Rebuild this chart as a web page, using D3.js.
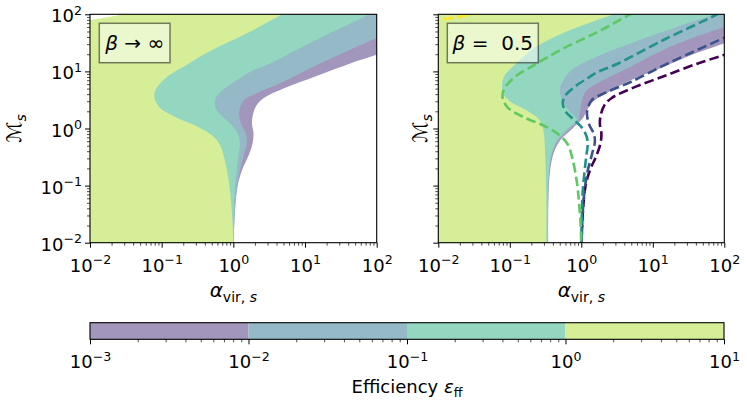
<!DOCTYPE html>
<html>
<head>
<meta charset="utf-8">
<script src="https://cdn.jsdelivr.net/npm/d3@7"></script>
<style>
  body { margin: 0; background: #fff; }
  text { font-family: "DejaVu Sans"; }
</style>
</head>
<body>
<svg id="chart" width="747" height="408"></svg>
<script>
// contour levels of the efficiency and tick exponents
var levels = [1e-3, 1e-2, 1e-1, 1, 10];
var xTickExps = [-2, -1, 0, 1, 2];
var yTickExps = [-2, -1, 0, 1, 2];
var cbTickExps = [-3, -2, -1, 0, 1];

var inf10 = [[0.005, 68], [0.01, 79], [0.0295, 100], [0.05, 115]];
var inf1 = [[7.9, 141], [4.8, 100], [1.74, 50], [0.50, 23.4], [0.24, 13.8], [0.117, 7.9],
  [0.085, 5.1], [0.079, 3.6], [0.093, 2.35], [0.162, 1.55], [0.31, 1.10], [0.50, 0.76],
  [0.65, 0.52], [0.76, 0.28], [0.87, 0.112], [0.93, 0.050], [0.98, 0.020], [1.0, 0.008]];
var inf01 = [[126, 141], [79, 100], [14.1, 35.5], [3.16, 13.5], [1.70, 9.8], [1.23, 7.6],
  [0.81, 5.4], [0.59, 3.7], [0.55, 2.8], [0.60, 2.0], [0.76, 1.48], [1.0, 1.07], [1.17, 0.76],
  [1.23, 0.54], [1.17, 0.32], [1.10, 0.158], [1.035, 0.063], [1.0, 0.008]];
var inf001 = [[126, 44.7], [100, 38.9], [42.7, 24], [14.5, 12.9], [5.0, 6.6], [2.24, 4.3],
  [1.41, 3.16], [1.23, 2.24], [1.20, 1.78], [1.29, 1.17], [1.48, 0.83], [1.55, 0.60],
  [1.41, 0.355], [1.20, 0.158], [1.07, 0.050], [1.0, 0.008]];
var inf0001 = [[126, 21.9], [95, 19.1], [42.7, 13.8], [14.5, 8.3], [5.0, 5.0], [2.63, 3.39],
  [2.09, 2.51], [1.86, 1.66], [1.82, 1.20], [1.91, 0.83], [1.86, 0.56], [1.62, 0.33],
  [1.32, 0.186], [1.15, 0.100], [1.06, 0.040], [1.0, 0.008]];

// contours of the beta = 0.5 panel
var half1 = [[5.6, 141], [2.82, 100], [0.62, 50], [0.234, 26.9], [0.123, 13.8], [0.083, 8.1],
  [0.078, 5.6], [0.081, 4.0], [0.10, 3.0], [0.17, 2.09], [0.26, 1.41], [0.295, 0.93],
  [0.31, 0.42], [0.324, 0.056], [0.324, 0.008]];
var half01 = [[126, 120], [87, 105], [40.7, 79], [14.1, 50], [4.8, 30.9], [1.66, 18.2],
  [0.69, 10], [0.54, 6.3], [0.50, 4.7], [0.54, 3.16], [0.63, 2.29], [0.79, 1.66], [0.87, 1.41],
  [0.74, 1.15], [0.60, 0.91], [0.457, 0.62], [0.385, 0.37], [0.35, 0.166], [0.339, 0.056],
  [0.337, 0.008]];
var half001 = [[126, 67.6], [98, 60], [40.7, 40.7], [14.1, 24], [4.8, 12.0], [2.04, 7.1],
  [1.20, 4.7], [1.02, 3.16], [0.955, 1.86], [0.91, 1.38], [0.79, 1.15], [0.65, 0.91],
  [0.48, 0.62], [0.394, 0.37], [0.355, 0.166], [0.343, 0.056], [0.341, 0.008]];
var half0001 = [[126, 35.5], [98, 30.9], [40.7, 20.9], [14.1, 12.0], [4.8, 6.9], [2.29, 4.2],
  [1.48, 3.0], [1.20, 2.09], [1.05, 1.51], [0.87, 1.20], [0.71, 0.93], [0.51, 0.63],
  [0.41, 0.37], [0.363, 0.166], [0.347, 0.056], [0.344, 0.008]];

var svg = d3.select("#chart");
var fs = 18;

// viridis at the middle of each band, half transparent on white
function bandColor(i) {
  return d3.interpolateRgb("#ffffff", d3.interpolateViridis((i + 0.5) / 4))(0.5);
}
function lineColor(i) {
  return d3.interpolateViridis(i / 4);
}

var smooth = d3.curveCatmullRom.alpha(0.5);

// region with efficiency above the contour (left of it)
function leftOf(x, y, pts) {
  var a = pts[0], b = pts[pts.length - 1];
  return d3.line().x(d => x(d[0])).y(d => y(d[1])).curve(smooth)(pts) +
    "L" + x(1e-4) + "," + y(b[1]) + "L" + x(1e-4) + "," + y(1e4) +
    "L" + x(1e4) + "," + y(1e4) + "L" + x(1e4) + "," + y(a[1]) + "Z";
}
// region above the contour in the top left corner
function aboveOf(x, y, pts) {
  var a = pts[0], b = pts[pts.length - 1];
  return d3.line().x(d => x(d[0])).y(d => y(d[1])).curve(smooth)(pts) +
    "L" + x(b[0]) + "," + y(1e4) + "L" + x(1e-4) + "," + y(1e4) +
    "L" + x(1e-4) + "," + y(a[1]) + "Z";
}

function minors(lo, hi) {
  var out = [];
  for (var e = lo; e < hi; e++)
    for (var k = 2; k < 10; k++) out.push(k * Math.pow(10, e));
  return out;
}

function powLabels(g, dx, dy, anchor) {
  g.attr("font-size", fs).attr("font-family", "DejaVu Sans");
  g.selectAll(".tick text").each(function(d) {
    var e = Math.round(Math.log10(d));
    var t = d3.select(this).text(null)
      .attr("x", dx).attr("y", dy).attr("dy", null)
      .attr("text-anchor", anchor).attr("fill", "#000");
    t.append("tspan").text("10");
    t.append("tspan").attr("font-size", "0.7em").attr("dy", "-0.6em")
      .text(e < 0 ? "\u2212" + (-e) : e);
  });
}

function styleTicks(g, w) {
  g.select(".domain").remove();
  g.selectAll(".tick line").attr("stroke", "#000").attr("stroke-width", w);
}

var yTop = 14.3, yBot = 242.7;
var panels = [
  { id: "a", x0: 90, x1: 376.7, fills: [inf0001, inf001, inf01, inf1], corner: inf10,
    lines: null, tickLabels: true, box: [99.3, 23.3, 70.7, 39.4], label: ["β", " \u2192 \u221e"] },
  { id: "b", x0: 438.3, x1: 724.3, fills: [half0001, half001, half01, half1], corner: null,
    lines: [inf0001, inf001, inf01, inf1, inf10], tickLabels: false,
    box: [447.3, 23.3, 91, 39.4], label: ["β", " =  0.5"] }
];

var defs = svg.append("defs");

panels.forEach(function(p) {
  var x = d3.scaleLog().domain([1e-2, 1e2]).range([p.x0, p.x1]);
  var y = d3.scaleLog().domain([1e-2, 1e2]).range([yBot, yTop]);

  defs.append("clipPath").attr("id", "clip-" + p.id)
    .append("rect").attr("x", p.x0).attr("y", yTop)
    .attr("width", p.x1 - p.x0).attr("height", yBot - yTop);

  var plot = svg.append("g").attr("clip-path", "url(#clip-" + p.id + ")");

  p.fills.forEach(function(c, i) {
    plot.append("path").attr("d", leftOf(x, y, c)).attr("fill", bandColor(i));
  });
  if (p.corner)
    plot.append("path").attr("d", aboveOf(x, y, p.corner)).attr("fill", "#fff");

  if (p.lines) {
    p.lines.forEach(function(c, i) {
      plot.append("path")
        .attr("d", d3.line().x(d => x(d[0])).y(d => y(d[1])).curve(smooth)(c))
        .attr("fill", "none")
        .attr("stroke", lineColor(i))
        .attr("stroke-width", 2.6)
        .attr("stroke-dasharray", "9.6,4.2");
    });
  }

  // label box
  svg.append("rect")
    .attr("x", p.box[0]).attr("y", p.box[1])
    .attr("width", p.box[2]).attr("height", p.box[3])
    .attr("fill", "#fff").attr("fill-opacity", 0.5)
    .attr("stroke", "#000").attr("stroke-opacity", 0.5).attr("stroke-width", 1.5);
  var lt = svg.append("text")
    .attr("x", p.box[0] + p.box[2] / 2).attr("y", p.box[1] + p.box[3] / 2 + 7)
    .attr("text-anchor", "middle").attr("font-size", 20)
    .style("white-space", "pre");
  lt.append("tspan").attr("font-style", "italic").text(p.label[0]);
  lt.append("tspan").text(p.label[1]);

  // axes
  var gx = svg.append("g").attr("transform", "translate(0," + yBot + ")");
  gx.append("g").call(d3.axisBottom(x).tickValues(minors(-2, 2)).tickSize(3).tickFormat(""))
    .call(styleTicks, 0.7);
  var gxm = gx.append("g").call(d3.axisBottom(x).tickValues(xTickExps.map(e => Math.pow(10, e))).tickSize(5))
    .call(styleTicks, 1);
  powLabels(gxm, 0, 29, "middle");

  var gy = svg.append("g").attr("transform", "translate(" + p.x0 + ",0)");
  gy.append("g").call(d3.axisLeft(y).tickValues(minors(-2, 2)).tickSize(3).tickFormat(""))
    .call(styleTicks, 0.7);
  var gym = gy.append("g").call(d3.axisLeft(y).tickValues(yTickExps.map(e => Math.pow(10, e))).tickSize(5))
    .call(styleTicks, 1);
  if (p.tickLabels) powLabels(gym, -8, 7.5, "end");
  else gym.selectAll(".tick text").remove();

  svg.append("rect")
    .attr("x", p.x0).attr("y", yTop)
    .attr("width", p.x1 - p.x0).attr("height", yBot - yTop)
    .attr("fill", "none").attr("stroke", "#000").attr("stroke-width", 1.1);

  // axis titles
  var xl = svg.append("text")
    .attr("x", (p.x0 + p.x1) / 2).attr("y", 297)
    .attr("text-anchor", "middle").attr("font-size", 20);
  xl.append("tspan").attr("font-style", "italic").text("α");
  var sub = xl.append("tspan").attr("font-size", 14).attr("dy", 5);
  sub.append("tspan").text("vir, ");
  sub.append("tspan").attr("font-style", "italic").text("s");

  var ylx = p.tickLabels ? 21 : 427;
  var yl = svg.append("text")
    .attr("transform", "translate(" + ylx + "," + ((yTop + yBot) / 2) + ") rotate(-90)")
    .attr("text-anchor", "middle").attr("font-size", 20);
  yl.append("tspan").text("\u2133");
  yl.append("tspan").attr("font-size", 14).attr("dy", 5).attr("font-style", "italic").text("s");
});

// colorbar
var cbTop = 322.7, cbBottom = 339.3;
var cx = d3.scaleLog().domain([1e-3, 1e1]).range([90, 724]);
svg.append("g").selectAll("rect")
  .data(d3.pairs(levels))
  .join("rect")
  .attr("x", d => cx(d[0]))
  .attr("y", cbTop)
  .attr("width", d => cx(d[1]) - cx(d[0]))
  .attr("height", cbBottom - cbTop)
  .attr("fill", (d, i) => bandColor(i));
svg.append("rect")
  .attr("x", cx.range()[0]).attr("y", cbTop)
  .attr("width", cx.range()[1] - cx.range()[0]).attr("height", cbBottom - cbTop)
  .attr("fill", "none").attr("stroke", "#000").attr("stroke-width", 1.1);

var gc = svg.append("g").attr("transform", "translate(0," + cbBottom + ")");
gc.append("g").call(d3.axisBottom(cx).tickValues(minors(-3, 1)).tickSize(3).tickFormat(""))
  .call(styleTicks, 0.7);
var gcm = gc.append("g").call(d3.axisBottom(cx).tickValues(cbTickExps.map(e => Math.pow(10, e))).tickSize(5))
  .call(styleTicks, 1);
powLabels(gcm, 0, 29, "middle");

var cl = svg.append("text")
  .attr("x", (cx.range()[0] + cx.range()[1]) / 2).attr("y", 393)
  .attr("text-anchor", "middle").attr("font-size", 18);
cl.append("tspan").text("Efficiency ");
cl.append("tspan").attr("font-style", "italic").text("ε");
cl.append("tspan").attr("font-size", 12.6).attr("dy", 4).text("ff");
</script>
</body>
</html>
